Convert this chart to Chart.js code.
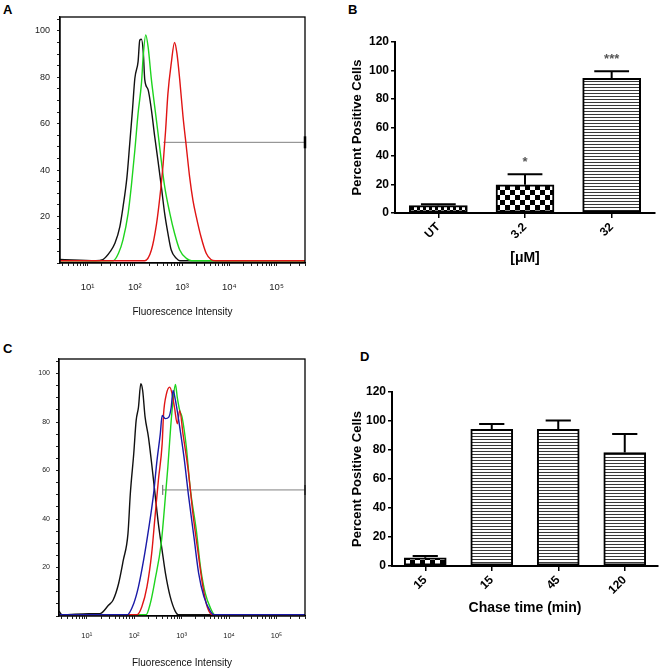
<!DOCTYPE html>
<html><head><meta charset="utf-8">
<script src="https://cdn.jsdelivr.net/npm/chart.js@4.4.1/dist/chart.umd.min.js"></script>
<style>
html,body{margin:0;padding:0;background:#fff;width:661px;height:672px;overflow:hidden;position:relative;}
canvas{position:absolute;}
.lbl{position:absolute;font:bold 13px Arial,"Liberation Sans",sans-serif;line-height:13px;color:#000;}
</style></head><body>
<div class="lbl" style="left:3px;top:3px">A</div>
<div class="lbl" style="left:348px;top:3px">B</div>
<div class="lbl" style="left:3px;top:342px">C</div>
<div class="lbl" style="left:360px;top:350px">D</div>
<canvas id="cA" width="330" height="330" style="left:0;top:0"></canvas>
<canvas id="cB" width="331" height="280" style="left:330px;top:0"></canvas>
<canvas id="cC" width="330" height="342" style="left:0;top:330px"></canvas>
<canvas id="cD" width="331" height="300" style="left:330px;top:340px"></canvas>
<script>
const FONT = 'Arial, "Liberation Sans", sans-serif';

// ---------- Panel A histogram (intensity, % of max) ----------
const aBlackX = [2.6, 15, 21, 30, 38, 48, 56, 68, 78, 89, 100, 117, 127, 138, 151, 162, 191, 224, 263, 309, 363, 427, 501, 589, 759, 891, 400000];
const aBlackY = [1.5, 1, 1.5, 4.9, 8.6, 15.6, 24, 37, 51.6, 66, 79.6, 86.8, 96, 96.4, 90.5, 79, 74.6, 66, 54.5, 44, 33, 21.4, 12.8, 5.6, 2, 1, 1];
const aGreenX = [2.6, 35, 45, 56, 72, 85, 100, 117, 138, 150, 170, 191, 224, 263, 309, 363, 427, 550, 692, 891, 1230, 1585, 400000];
const aGreenY = [1, 1, 4.2, 10, 21.4, 34, 48.7, 64.5, 77.5, 89, 98.3, 93, 79, 67.4, 56, 44, 33, 21.4, 12.8, 5.6, 2, 1, 1];
const aRedX = [2.6, 162, 224, 288, 339, 398, 447, 501, 589, 692, 776, 891, 1047, 1230, 1445, 1698, 1995, 2512, 3236, 4074, 5000, 400000];
const aRedY = [1, 1, 5.6, 17, 28.6, 43, 57, 73, 86, 95, 90.4, 79, 63, 50, 37, 27, 20, 11.3, 4.2, 1.5, 1, 1];

// ---------- Panel C histogram ----------
const cBlackX = [2.6, 3, 11, 19, 29, 36, 47, 59, 74, 83, 98, 110, 123, 138, 151, 170, 200, 234, 275, 324, 389, 457, 575, 741, 851, 400000];
const cBlackY = [2, 0.5, 1, 1, 4.5, 6.6, 13.4, 23, 34, 50.5, 67, 80.6, 86, 95.8, 93, 82, 73.8, 62.8, 50.5, 38, 27, 17.6, 8, 1.8, 0.5, 0.5];
const cBlueX = [2.6, 71, 98, 123, 158, 200, 257, 302, 355, 389, 457, 537, 603, 661, 741, 871, 1122, 1413, 1820, 2291, 2951, 4074, 4786, 400000];
const cBlueY = [0.5, 0.5, 5.2, 12, 23, 35.4, 50.5, 64, 75, 82.7, 81.4, 82, 86, 93, 89, 80.6, 65.6, 49, 32.6, 17.6, 8, 1.8, 0.5, 0.5];
const cRedX = [2.6, 115, 145, 186, 234, 275, 324, 389, 417, 479, 562, 631, 708, 813, 912, 1072, 1380, 1738, 2239, 2818, 3467, 4467, 400000];
const cRedY = [0.5, 0.5, 3.8, 12, 25.8, 40.9, 56, 71, 83.4, 91.6, 94.4, 91.6, 86, 79.3, 84.8, 75, 60, 42, 25.8, 12, 3.8, 0.5, 0.5];
const cGreenX = [2.6, 178, 219, 275, 372, 437, 513, 589, 661, 741, 813, 912, 1023, 1259, 1514, 2042, 2512, 3162, 4074, 5012, 400000];
const cGreenY = [0.5, 0.5, 5.2, 14.8, 30, 45, 61.4, 78, 89, 95.5, 90, 84.8, 82, 69.7, 53, 35.4, 20, 9.3, 3.2, 0.5, 0.5];

// gate marker (intensity range, level)
const gateX = [400, 400000];
const gateLevel = 52;

// histogram axes
const logTickValues = [10, 100, 1000, 10000, 100000];
const logTickLabels = ['10\u00B9', '10\u00B2', '10\u00B3', '10\u2074', '10\u2075'];
const histYLabels = [20, 40, 60, 80, 100];
const histXMin = 2.6, histXMax = 400000, histYMax = 106;
const histXTitle = 'Fluorescence Intensity';

// ---------- Panel B bars ----------
const bLabels = ['UT', '3.2', '32'];
const bValues = [5.2, 19.8, 94.5];
const bErrors = [1, 7.4, 5];
const bStars = ['', '*', '***'];
const bXTitle = '[\u03BCM]';

// ---------- Panel D bars ----------
const dLabels = ['15', '15', '45', '120'];
const dValues = [5.7, 94.3, 94.3, 78.2];
const dErrors = [1.2, 3.6, 6, 12.8];
const dXTitle = 'Chase time (min)';
const barYTitle = 'Percent Positive Cells';

// ---------- patterns ----------
function checker(size) {
  const c = document.createElement('canvas'); c.width = c.height = size * 2;
  const g = c.getContext('2d');
  g.fillStyle = '#fff'; g.fillRect(0, 0, size * 2, size * 2);
  g.fillStyle = '#000'; g.fillRect(0, 0, size, size); g.fillRect(size, size, size, size);
  return g.createPattern(c, 'repeat');
}
function stripes() {
  const c = document.createElement('canvas'); c.width = 4; c.height = 3;
  const g = c.getContext('2d');
  g.fillStyle = '#fff'; g.fillRect(0, 0, 4, 3);
  g.fillStyle = '#3a3a3a'; g.fillRect(0, 0, 4, 1);
  return g.createPattern(c, 'repeat');
}

function pts(xs, ys) { return xs.map((x, i) => ({x: x, y: ys[i]})); }

const framePlugin = {
  id: 'frame',
  afterDraw(chart) {
    const a = chart.chartArea, ctx = chart.ctx;
    ctx.save(); ctx.strokeStyle = '#000'; ctx.lineWidth = 1.3;
    ctx.strokeRect(a.left, a.top, a.right - a.left, a.bottom - a.top);
    ctx.restore();
  }
};

function histChart(id, curves, cfg) {
  const datasets = curves.map(c => ({
    data: pts(c.x, c.y), borderColor: c.color, borderWidth: 1.4, pointRadius: 0,
    cubicInterpolationMode: 'monotone', order: c.order, fill: false
  }));
  datasets.push({
    data: pts(gateX, [gateLevel, gateLevel]), borderColor: '#808080', borderWidth: 1,
    pointStyle: 'line', pointRotation: 90, pointRadius: cfg.gateRadius,
    pointBorderColor: cfg.gateColors, pointBorderWidth: cfg.gateWidths, order: 10, clip: false
  });
  return new Chart(document.getElementById(id), {
    type: 'line',
    data: {datasets},
    options: {
      responsive: false, animation: false, events: [],
      layout: {padding: cfg.padding},
      plugins: {legend: {display: false}, tooltip: {enabled: false}},
      scales: {
        x: {
          type: 'logarithmic', min: histXMin, max: histXMax,
          afterBuildTicks: s => {
            const t = [];
            for (let e = 0; e <= 5; e++) for (let m = 1; m <= 9; m++) {
              const v = m * Math.pow(10, e);
              if (v >= histXMin && v <= histXMax) t.push({value: v});
            }
            s.ticks = t;
          },
          ticks: {
            autoSkip: false, maxRotation: 0, minRotation: 0, color: '#222',
            font: {size: cfg.tickSize, family: FONT}, padding: cfg.xTickPad,
            callback: v => { const i = logTickValues.indexOf(v); return i >= 0 ? logTickLabels[i] : ''; }
          },
          grid: {display: true, drawOnChartArea: false, drawTicks: true, tickLength: 3, color: '#222', lineWidth: 1},
          border: {display: true, color: '#000', width: 1.3},
          title: {display: true, text: histXTitle, color: '#111', font: {size: 10, family: FONT}, padding: {top: 0, bottom: cfg.titlePad}},
          afterFit: s => { s.height = cfg.xHeight; }
        },
        y: {
          min: 0, max: histYMax,
          afterBuildTicks: s => { const t = []; for (let v = 0; v <= 105; v += 5) t.push({value: v}); s.ticks = t; },
          ticks: {
            autoSkip: false, color: '#222', font: {size: cfg.yTickSize, family: FONT}, padding: cfg.yTickPad,
            callback: v => histYLabels.indexOf(v) >= 0 ? String(v) : ''
          },
          grid: {display: true, drawOnChartArea: false, drawTicks: true, tickLength: 3, color: '#222', lineWidth: 1},
          border: {display: true, color: '#000', width: 1.3},
          afterFit: s => { s.width = cfg.yWidth; }
        }
      }
    },
    plugins: [framePlugin]
  });
}

function barChart(id, labels, values, errors, stars, fills, cfg) {
  const errPlugin = {
    id: 'err',
    afterDatasetsDraw(chart) {
      const meta = chart.getDatasetMeta(0), ys = chart.scales.y, ctx = chart.ctx;
      meta.data.forEach((bar, i) => {
        const top = ys.getPixelForValue(values[i] + errors[i]);
        const half = bar.width * 0.3;
        ctx.save(); ctx.strokeStyle = '#000'; ctx.lineWidth = 2;
        ctx.beginPath();
        ctx.moveTo(bar.x, bar.y); ctx.lineTo(bar.x, top);
        ctx.moveTo(bar.x - half, top); ctx.lineTo(bar.x + half, top);
        ctx.stroke();
        if (stars && stars[i]) {
          ctx.fillStyle = '#555'; ctx.font = 'bold 13px ' + FONT;
          ctx.textAlign = 'center'; ctx.textBaseline = 'alphabetic';
          ctx.fillText(stars[i], bar.x, top - 8);
        }
        ctx.restore();
      });
    }
  };
  return new Chart(document.getElementById(id), {
    type: 'bar',
    data: {labels, datasets: [{data: values, backgroundColor: fills, borderColor: '#000', borderWidth: 2, borderSkipped: false, barThickness: cfg.barThickness}]},
    options: {
      responsive: false, animation: false, events: [],
      layout: {padding: cfg.padding},
      plugins: {legend: {display: false}, tooltip: {enabled: false}},
      scales: {
        x: {
          ticks: {maxRotation: 45, minRotation: 45, color: '#000', font: {size: 12, weight: 'bold', family: FONT}, padding: 2},
          grid: {display: true, drawOnChartArea: false, offset: false, drawTicks: true, tickLength: 5, color: '#000', lineWidth: 1.5},
          border: {display: true, color: '#000', width: 2},
          title: {display: true, text: cfg.xTitle, color: '#000', font: {size: 14, weight: 'bold', family: FONT}, padding: {top: 0, bottom: cfg.titlePad}},
          afterFit: s => { s.height = cfg.xHeight; }
        },
        y: {
          min: 0, max: 120,
          ticks: {stepSize: 20, color: '#000', font: {size: 12, weight: 'bold', family: FONT}, padding: 2},
          grid: {display: true, drawOnChartArea: false, drawTicks: true, tickLength: 4, color: '#000', lineWidth: 1.5},
          border: {display: true, color: '#000', width: 2},
          title: {display: true, text: barYTitle, color: '#000', font: {size: 13, weight: 'bold', family: FONT}, padding: {top: 20, bottom: 0}},
          afterFit: s => { s.width = cfg.yWidth; }
        }
      }
    },
    plugins: [errPlugin]
  });
}

histChart('cA', [
  {x: aBlackX, y: aBlackY, color: '#111111', order: 3},
  {x: aGreenX, y: aGreenY, color: '#1ed41e', order: 2},
  {x: aRedX, y: aRedY, color: '#e01414', order: 1}
], {padding: {left: 0, right: 25, top: 17, bottom: 0}, yWidth: 60, xHeight: 67, tickSize: 9.5, yTickSize: 9, yTickPad: 7,
    xTickPad: 16, titlePad: 12, gateRadius: [0, 6], gateColors: ['#808080', '#000'], gateWidths: [1, 2.5]});

histChart('cC', [
  {x: cBlackX, y: cBlackY, color: '#111111', order: 4},
  {x: cGreenX, y: cGreenY, color: '#1ed41e', order: 3},
  {x: cRedX, y: cRedY, color: '#e01414', order: 2},
  {x: cBlueX, y: cBlueY, color: '#1a1aa8', order: 1}
], {padding: {left: 0, right: 25, top: 29, bottom: 0}, yWidth: 59, xHeight: 56, tickSize: 7.5, yTickSize: 7, yTickPad: 6,
    xTickPad: 12, titlePad: 3, gateRadius: [5, 5], gateColors: ['#606060', '#606060'], gateWidths: [1, 1.5]});

barChart('cB', bLabels, bValues, bErrors, bStars, [checker(3), checker(5), stripes()],
  {padding: {left: 0, right: 6, top: 42, bottom: 0}, yWidth: 65, xHeight: 67, barThickness: 58, xTitle: bXTitle, titlePad: 13});

barChart('cD', dLabels, dValues, dErrors, null, [checker(5), stripes(), stripes(), stripes()],
  {padding: {left: 0, right: 3, top: 52, bottom: 0}, yWidth: 62, xHeight: 74, barThickness: 42, xTitle: dXTitle, titlePad: 23});
</script>
</body></html>
